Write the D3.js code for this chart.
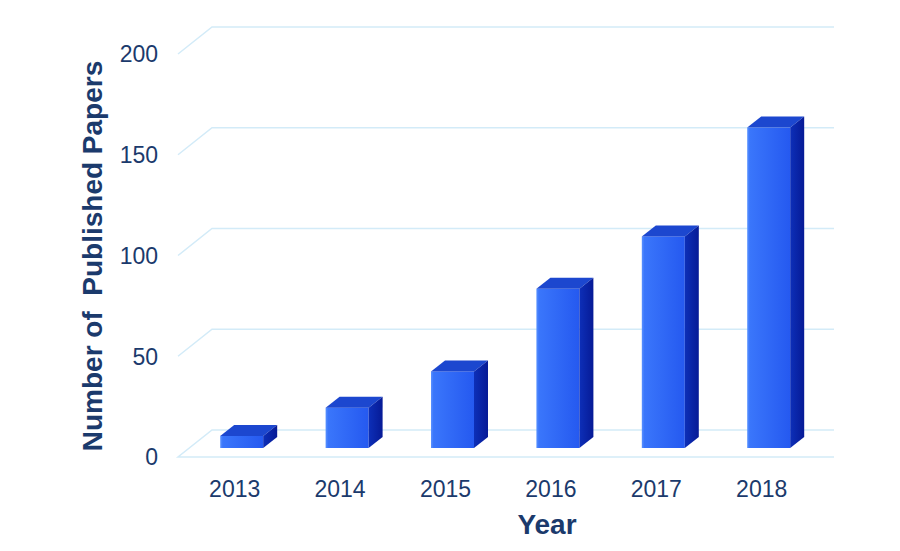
<!DOCTYPE html>
<html>
<head>
<meta charset="utf-8">
<script src="https://cdn.jsdelivr.net/npm/d3@7"></script>
<style>
  body { margin: 0; background: #fff; }
  #chart { width: 900px; height: 551px; }
</style>
</head>
<body>
<div id="chart"></div>
<script>
const years = ["2013", "2014", "2015", "2016", "2017", "2018"];
const papers = [6, 20, 38, 79, 105, 159];
const yTicks = [0, 50, 100, 150, 200];

const width = 900, height = 551;
const textColor = "#1b3a6c";
const gridColor = "#d3ebf8";

// floor depth (front plane -> back wall)
const depth = { dx: 34, dy: -27 };
// bars sit a bit behind the front plane
const barOff = { dx: 11, dy: -9 };
const barDepth = { dx: 14, dy: -11 };
const barW = 43;

const svg = d3.select("#chart").append("svg")
  .attr("width", width)
  .attr("height", height);

const x = d3.scaleBand()
  .domain(years)
  .range([178, 178 + 6 * 105.4]);

const y = d3.scaleLinear()
  .domain([0, 200])
  .range([457, 54]);

const defs = svg.append("defs");
const frontGrad = defs.append("linearGradient").attr("id", "front");
frontGrad.append("stop").attr("offset", "0%").attr("stop-color", "#5a92ff");
frontGrad.append("stop").attr("offset", "6%").attr("stop-color", "#3a76fb");
frontGrad.append("stop").attr("offset", "100%").attr("stop-color", "#2559f0");
const sideGrad = defs.append("linearGradient").attr("id", "side");
sideGrad.append("stop").attr("offset", "0%").attr("stop-color", "#0d2fb8");
sideGrad.append("stop").attr("offset", "100%").attr("stop-color", "#061a96");

const xRight = 834;

// floor
const floorY = y(0);
svg.append("path")
  .attr("d", `M${xRight},${floorY + depth.dy}L${178 + depth.dx},${floorY + depth.dy}L178,${floorY}L${xRight},${floorY}`)
  .attr("fill", "none")
  .attr("stroke", gridColor)
  .attr("stroke-width", 1.5);

// gridlines on side wall + back wall
svg.append("g").selectAll("path")
  .data(yTicks.filter(d => d > 0))
  .enter()
  .append("path")
  .attr("d", d => `M178,${y(d)}L${178 + depth.dx},${y(d) + depth.dy}L${xRight},${y(d) + depth.dy}`)
  .attr("fill", "none")
  .attr("stroke", gridColor)
  .attr("stroke-width", 1.5);

// y tick labels
svg.append("g").selectAll("text")
  .data(yTicks)
  .enter()
  .append("text")
  .attr("x", 158)
  .attr("y", d => y(d))
  .attr("dy", "0.36em")
  .attr("text-anchor", "end")
  .attr("font-family", "Liberation Sans, Arial, sans-serif")
  .attr("font-size", 23)
  .attr("fill", textColor)
  .text(d => d);

// bars
const bars = svg.append("g").selectAll("g")
  .data(years.map((yr, i) => ({ year: yr, value: papers[i] })))
  .enter()
  .append("g");

const bx = d => x(d.year) + x.bandwidth() / 2 + barOff.dx - barW / 2;
const by0 = () => y(0) + barOff.dy;
const by1 = d => y(d.value) + barOff.dy;

bars.append("rect")
  .attr("x", bx)
  .attr("y", by1)
  .attr("width", barW)
  .attr("height", d => by0() - by1(d))
  .attr("fill", "url(#front)");

bars.append("path")
  .attr("d", d => {
    const x0 = bx(d), x1 = bx(d) + barW, t = by1(d);
    return `M${x0},${t}L${x0 + barDepth.dx},${t + barDepth.dy}L${x1 + barDepth.dx},${t + barDepth.dy}L${x1},${t}Z`;
  })
  .attr("fill", "#1c47cf");

bars.append("path")
  .attr("d", d => {
    const x1 = bx(d) + barW, t = by1(d), b = by0();
    return `M${x1},${t}L${x1 + barDepth.dx},${t + barDepth.dy}L${x1 + barDepth.dx},${b + barDepth.dy}L${x1},${b}Z`;
  })
  .attr("fill", "url(#side)");

// x labels
svg.append("g").selectAll("text")
  .data(years)
  .enter()
  .append("text")
  .attr("x", d => x(d) + x.bandwidth() / 2 + 4)
  .attr("y", 497)
  .attr("text-anchor", "middle")
  .attr("font-family", "Liberation Sans, Arial, sans-serif")
  .attr("font-size", 23)
  .attr("fill", textColor)
  .text(d => d);

// axis titles
svg.append("text")
  .attr("x", 547)
  .attr("y", 534)
  .attr("text-anchor", "middle")
  .attr("font-family", "Liberation Sans, Arial, sans-serif")
  .attr("font-size", 28)
  .attr("font-weight", "bold")
  .attr("fill", textColor)
  .text("Year");

svg.append("text")
  .attr("transform", "translate(102,256) rotate(-90)")
  .attr("text-anchor", "middle")
  .attr("font-family", "Liberation Sans, Arial, sans-serif")
  .attr("font-size", 28)
  .attr("font-weight", "bold")
  .attr("fill", textColor)
  .style("white-space", "pre")
  .text("Number of  Published Papers");
</script>
</body>
</html>
